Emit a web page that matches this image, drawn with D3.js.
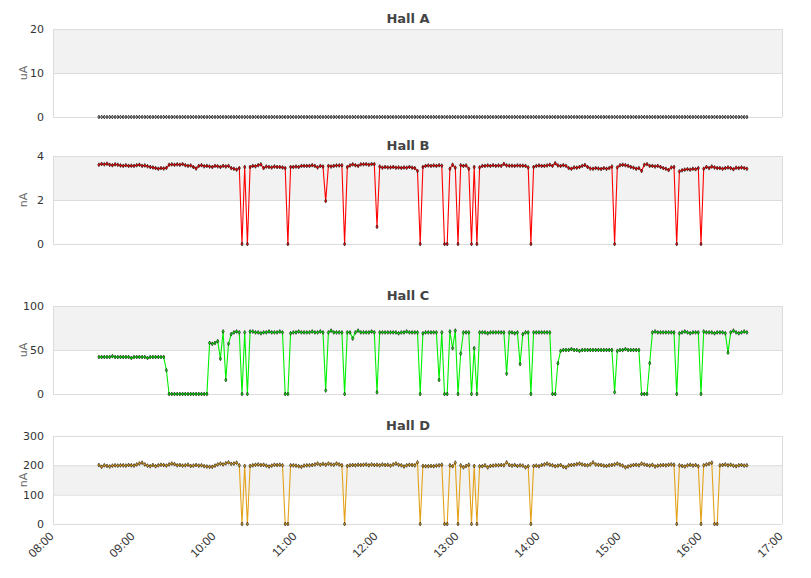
<!DOCTYPE html>
<html><head><meta charset="utf-8">
<script src="https://cdn.jsdelivr.net/npm/d3@7"></script>
<style>body{margin:0;background:#fff}svg{display:block;font-family:"DejaVu Sans",sans-serif}</style>
</head><body><svg id="c" width="811" height="578"></svg>
<script>
const panelTitles = ["Hall A", "Hall B", "Hall C", "Hall D"];
const unitLabels = ["uA", "nA", "uA", "nA"];
const yTicksA = [0, 10, 20];
const yTicksB = [0, 2, 4];
const yTicksC = [0, 50, 100];
const yTicksD = [0, 100, 200, 300];
const xTickLabels = ["08:00","09:00","10:00","11:00","12:00","13:00","14:00","15:00","16:00","17:00"];
const sampleStart = "08:34";
const sampleMinutes = 2;

const hallA = [
0,0,0,0,0,0,0,0,0,0, 0,0,0,0,0,0,0,0,0,0, 0,0,0,0,0,0,0,0,0,0, 0,0,0,0,0,0,0,0,0,0,
0,0,0,0,0,0,0,0,0,0, 0,0,0,0,0,0,0,0,0,0, 0,0,0,0,0,0,0,0,0,0, 0,0,0,0,0,0,0,0,0,0,
0,0,0,0,0,0,0,0,0,0, 0,0,0,0,0,0,0,0,0,0, 0,0,0,0,0,0,0,0,0,0, 0,0,0,0,0,0,0,0,0,0,
0,0,0,0,0,0,0,0,0,0, 0,0,0,0,0,0,0,0,0,0, 0,0,0,0,0,0,0,0,0,0, 0,0,0,0,0,0,0,0,0,0,
0,0,0,0,0,0,0,0,0,0, 0,0,0,0,0,0,0,0,0,0, 0,0,0,0,0,0,0,0,0,0, 0,0,0,0,0,0,0,0,0,0,
0,0,0,0,0,0,0,0,0,0, 0,0,0,0,0,0,0,0,0,0, 0,0,0,0,0,0,0,0,0,0, 0,0,0,0,0,0,0,0,0,0,
0];

const hallB = [
3.60,3.64,3.62,3.65,3.60,3.58,3.62,3.60,3.57,3.55,
3.58,3.55,3.56,3.55,3.58,3.60,3.55,3.57,3.53,3.50,
3.48,3.45,3.42,3.45,3.43,3.46,3.60,3.62,3.60,3.62,
3.60,3.63,3.58,3.55,3.57,3.50,3.43,3.55,3.58,3.53,
3.55,3.52,3.50,3.55,3.53,3.50,3.55,3.52,3.55,3.45,
3.42,3.38,3.45,0,3.50,0,3.50,3.55,3.53,3.58,
3.62,3.45,3.52,3.50,3.48,3.52,3.50,3.50,3.48,3.45,
0,3.50,3.50,3.52,3.50,3.55,3.55,3.55,3.55,3.58,
3.55,3.48,3.55,3.52,1.95,3.55,3.52,3.55,3.57,3.57,
3.58,0,3.50,3.57,3.62,3.58,3.55,3.62,3.62,3.63,
3.60,3.63,3.63,0.78,3.52,3.47,3.50,3.48,3.48,3.50,
3.47,3.48,3.46,3.48,3.47,3.50,3.47,3.45,3.32,0,
3.50,3.55,3.57,3.55,3.57,3.55,3.58,3.56,0,0,
3.42,3.60,3.47,0,3.58,3.55,3.57,3.42,0,3.50,
0,3.48,3.55,3.55,3.57,3.55,3.58,3.55,3.57,3.55,
3.64,3.57,3.56,3.56,3.55,3.57,3.56,3.56,3.55,3.48,
0,3.50,3.55,3.57,3.55,3.55,3.57,3.60,3.55,3.67,
3.57,3.55,3.58,3.55,3.45,3.42,3.48,3.47,3.50,3.55,
3.59,3.50,3.43,3.42,3.45,3.43,3.41,3.45,3.42,3.45,
3.52,0,3.48,3.58,3.60,3.58,3.55,3.50,3.47,3.42,
3.45,3.32,3.60,3.63,3.55,3.55,3.52,3.55,3.50,3.45,
3.42,3.36,3.48,3.50,0,3.30,3.35,3.38,3.40,3.38,
3.42,3.40,3.45,0,3.42,3.50,3.45,3.52,3.48,3.45,
3.45,3.42,3.45,3.48,3.45,3.40,3.47,3.45,3.48,3.45,
3.42];

const hallC = [
42,42,42,42,42,43,42,42,42,42,
42,42,41,42,42,42,42,42,41,42,
42,42,42,42,42,27,0,0,0,0,
0,0,0,0,0,0,0,0,0,0,
0,58,57,58,60,40,71,16,57,68,
70,71,70,0,70,0,71,71,70,70,
69,70,70,71,70,70,70,71,70,0,
0,69,70,70,71,70,70,70,70,71,
70,70,71,70,4,70,72,70,70,70,
70,0,70,70,63,70,72,70,70,70,
70,71,70,2,70,70,70,70,70,70,
70,69,70,70,71,70,70,70,70,0,
69,70,70,70,70,70,16,70,0,0,
71,52,72,0,46,70,70,70,0,52,
0,70,70,70,69,70,70,70,70,70,
70,23,70,70,69,70,34,68,70,70,
0,70,70,70,70,70,70,70,0,0,
35,49,50,50,50,51,50,50,49,50,
50,50,50,50,50,50,50,50,50,50,
50,2,49,50,50,51,50,50,50,50,
50,0,0,0,35,70,71,70,70,70,
70,70,70,70,0,69,70,71,70,69,
70,70,70,0,71,70,70,70,69,70,
70,70,69,47,70,72,70,69,70,71,
70];

const hallD = [
201,195,200,198,196,199,200,199,200,200,
199,201,200,199,203,206,209,203,199,197,
201,197,200,202,201,199,203,206,204,200,
201,199,200,202,198,199,201,199,200,197,
196,195,195,199,203,206,203,207,210,205,
206,209,200,0,198,0,198,200,202,203,
201,202,199,196,199,202,201,202,200,0,
0,200,200,199,197,195,199,200,200,201,
203,206,202,205,202,206,203,202,206,203,
200,0,198,200,201,200,202,201,202,203,
200,203,201,202,200,203,201,202,199,203,
206,202,200,196,200,202,201,200,210,0,
198,197,197,198,197,199,200,202,0,0,
200,197,209,0,200,193,198,202,0,198,
0,197,197,200,193,198,199,200,200,201,
200,210,201,199,201,198,200,199,193,197,
0,198,199,197,201,203,206,202,200,197,
199,201,195,193,200,201,202,204,206,203,
201,200,203,210,203,202,201,199,198,200,
201,203,206,202,199,193,196,199,201,202,
200,206,203,201,199,202,196,199,200,201,
200,202,203,202,0,200,198,196,200,202,
199,201,197,0,200,203,205,209,0,0,
200,201,203,200,202,199,197,200,201,199,
200];

const lineColors = ["#ffffff", "#ff0000", "#00f000", "#e3a21a"];

const svg = d3.select("#c");
const parseT = d3.timeParse("%H:%M");
const x = d3.scaleTime().domain([parseT(xTickLabels[0]), parseT(xTickLabels[xTickLabels.length-1])]).range([53, 782]);
const t0 = parseT(sampleStart);

const panels = [
  {title: panelTitles[0], unit: unitLabels[0], ticks: yTicksA, values: hallA, color: lineColors[0], top: 29},
  {title: panelTitles[1], unit: unitLabels[1], ticks: yTicksB, values: hallB, color: lineColors[1], top: 156},
  {title: panelTitles[2], unit: unitLabels[2], ticks: yTicksC, values: hallC, color: lineColors[2], top: 306},
  {title: panelTitles[3], unit: unitLabels[3], ticks: yTicksD, values: hallD, color: lineColors[3], top: 436}
];
const H = 88, L = 53, R = 782;

panels.forEach((p, pi) => {
  const g = svg.append("g");
  const y = d3.scaleLinear().domain([0, d3.max(p.ticks)]).range([p.top + H, p.top]);
  for (let i = 0; i < p.ticks.length - 1; i++) {
    if (i % 2 === 1) {
      g.append("rect").attr("x", L).attr("width", R - L)
        .attr("y", y(p.ticks[i+1])).attr("height", y(p.ticks[i]) - y(p.ticks[i+1]))
        .attr("fill", "#f2f2f2");
    }
  }
  g.selectAll("line.grid").data(p.ticks).join("line")
    .attr("x1", L).attr("x2", R).attr("y1", d => y(d) + 0.5).attr("y2", d => y(d) + 0.5)
    .attr("stroke", "#dcdcdc").attr("stroke-width", 1);
  g.append("line").attr("x1", L + 0.5).attr("x2", L + 0.5).attr("y1", p.top).attr("y2", p.top + H)
    .attr("stroke", "#dcdcdc");
  g.append("line").attr("x1", R + 0.5).attr("x2", R + 0.5).attr("y1", p.top).attr("y2", p.top + H)
    .attr("stroke", "#dcdcdc");
  const ax = g.append("g").attr("transform", `translate(${L},0)`)
    .call(d3.axisLeft(y).tickValues(p.ticks).tickSize(0).tickPadding(9).tickFormat(d3.format("~g")));
  ax.select(".domain").remove();
  ax.selectAll("text").attr("font-size", 11).attr("fill", "#333").attr("font-family", "DejaVu Sans, sans-serif");
  g.append("text").attr("transform", `translate(27,${p.top + H/2}) rotate(-90)`)
    .attr("text-anchor", "middle").attr("font-size", 11).attr("fill", "#666").text(p.unit);
  g.append("text").attr("x", 408).attr("y", p.top - 6).attr("text-anchor", "middle")
    .attr("font-size", 13).attr("font-weight", "bold").attr("fill", "#444").text(p.title);
  const pts = p.values.map((v, i) => ({t: d3.timeMinute.offset(t0, i * sampleMinutes), v}));
  const line = d3.line().x(d => x(d.t)).y(d => y(d.v));
  g.append("path").datum(pts).attr("d", line).attr("fill", "none")
    .attr("stroke", p.color).attr("stroke-width", 1.1).attr("stroke-linejoin", "round");
  const sym = d3.symbol().type(d3.symbolDiamond).size(pi === 0 ? 3.5 : 4.5);
  g.selectAll("path.m").data(pts).join("path").attr("class", "m")
    .attr("transform", d => `translate(${x(d.t)},${y(d.v)})`)
    .attr("d", sym).attr("fill", p.color).attr("stroke", pi === 0 ? "#000" : "#111").attr("stroke-width", pi === 0 ? 0.8 : 0.6);
});

const xa = svg.append("g").attr("transform", `translate(0,524)`)
  .call(d3.axisBottom(x).tickValues(xTickLabels.map(parseT)).tickSize(0).tickFormat(d3.timeFormat("%H:%M")));
xa.select(".domain").remove();
xa.selectAll("text").attr("font-size", 12).attr("fill", "#333")
  .attr("text-anchor", "end").attr("dy", null).attr("y", 0)
  .attr("transform", "translate(1,13) rotate(-45)");
</script></body></html>
